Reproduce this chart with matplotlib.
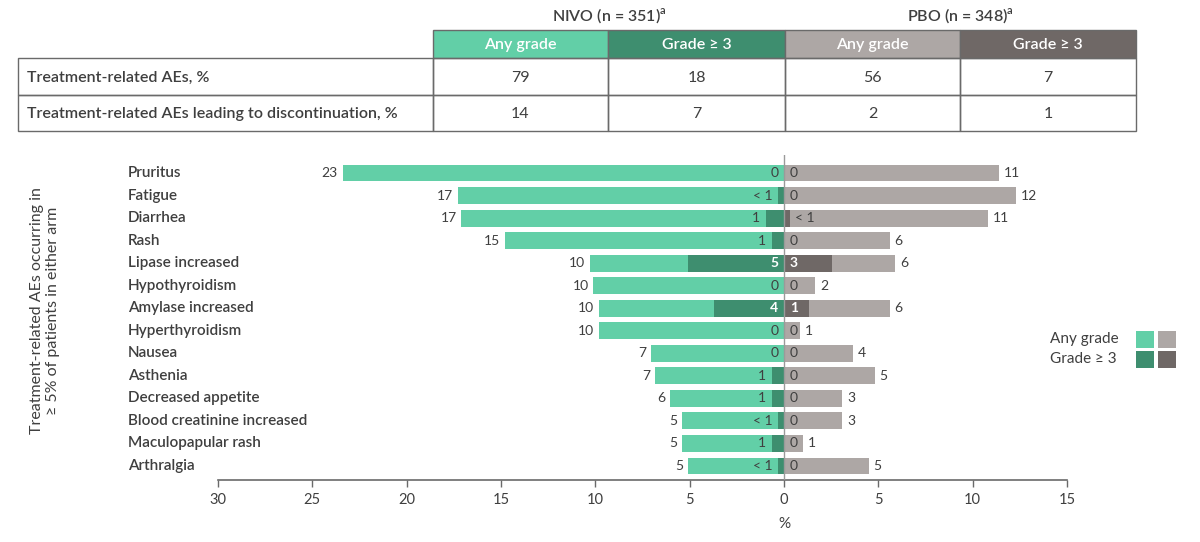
import matplotlib
matplotlib.use("Agg")
import matplotlib.pyplot as plt
from matplotlib.patches import Rectangle
from matplotlib.transforms import blended_transform_factory

plt.rcParams['font.family'] = ['Lato', 'DejaVu Sans']

# ---------------- data ----------------
categories = ["Pruritus", "Fatigue", "Diarrhea", "Rash", "Lipase increased",
              "Hypothyroidism", "Amylase increased", "Hyperthyroidism", "Nausea",
              "Asthenia", "Decreased appetite", "Blood creatinine increased",
              "Maculopapular rash", "Arthralgia"]
nivo_any = [23.4, 17.3, 17.1, 14.8, 10.3, 10.1, 9.8, 9.8, 7.05, 6.85, 6.05, 5.4, 5.4, 5.1]
nivo_g3 = [0, 0.3, 0.95, 0.65, 5.1, 0, 3.7, 0, 0, 0.65, 0.65, 0.3, 0.65, 0.3]
pbo_any = [11.4, 12.3, 10.8, 5.6, 5.9, 1.65, 5.6, 0.85, 3.65, 4.8, 3.1, 3.1, 1.0, 4.5]
pbo_g3 = [0, 0, 0.3, 0, 2.55, 0, 1.3, 0, 0, 0, 0, 0, 0, 0]

nivo_any_lbl = ["23", "17", "17", "15", "10", "10", "10", "10", "7", "7", "6", "5", "5", "5"]
nivo_g3_lbl = ["0", "< 1", "1", "1", "5", "0", "4", "0", "0", "1", "1", "< 1", "1", "< 1"]
pbo_any_lbl = ["11", "12", "11", "6", "6", "2", "6", "1", "4", "5", "3", "3", "1", "5"]
pbo_g3_lbl = ["0", "0", "< 1", "0", "3", "0", "1", "0", "0", "0", "0", "0", "0", "0"]

table_rows = ["Treatment-related AEs, %", "Treatment-related AEs leading to discontinuation, %"]
table_headers = ["Any grade", "Grade \u2265 3", "Any grade", "Grade \u2265 3"]
table_values = [["79", "18", "56", "7"], ["14", "7", "2", "1"]]
group_titles = ["NIVO (n = 351)$^{\\mathregular{a}}$", "PBO (n = 348)$^{\\mathregular{a}}$"]

xticks = [-30, -25, -20, -15, -10, -5, 0, 5, 10, 15]

# ---------------- style ----------------
C_NA = "#62CFA7"
C_NG = "#3E8E6F"
C_PA = "#ADA7A5"
C_PG = "#6F6866"
TXT = "#3F3F3F"
EDGE = "#6A6A6A"

W, H = 1200, 542
fig = plt.figure(figsize=(W / 100, H / 100), dpi=100, facecolor="white")

# ---------------- table (pixel-coordinate overlay) ----------------
tax = fig.add_axes([0, 0, 1, 1], zorder=0)
tax.set_xlim(0, W)
tax.set_ylim(H, 0)
tax.axis("off")

col_x = [18, 433, 608, 785, 960, 1136]
row_y = [30, 58, 95, 131]
head_colors = [C_NA, C_NG, C_PA, C_PG]

for j in range(4):
    x0, x1 = col_x[j + 1], col_x[j + 2]
    tax.add_patch(Rectangle((x0, row_y[0]), x1 - x0, row_y[1] - row_y[0],
                            facecolor=head_colors[j], edgecolor=EDGE, lw=1.0))
    tax.text((x0 + x1) / 2, (row_y[0] + row_y[1]) / 2 + 1, table_headers[j],
             ha="center", va="center", color="white", fontsize=11.5, fontweight="semibold")
for i in range(2):
    y0, y1 = row_y[i + 1], row_y[i + 2]
    for j in range(5):
        x0, x1 = col_x[j], col_x[j + 1]
        tax.add_patch(Rectangle((x0, y0), x1 - x0, y1 - y0, facecolor="none",
                                edgecolor=EDGE, lw=1.0))
    tax.text(col_x[0] + 9, (y0 + y1) / 2 + 1, table_rows[i], ha="left", va="center",
             color=TXT, fontsize=11.5, fontweight="semibold")
    for j in range(4):
        tax.text((col_x[j + 1] + col_x[j + 2]) / 2, (y0 + y1) / 2 + 1, table_values[i][j],
                 ha="center", va="center", color=TXT, fontsize=11.5)
for g in range(2):
    cx = (col_x[1 + 2 * g] + col_x[3 + 2 * g]) / 2
    tax.text(cx, 16, group_titles[g], ha="center", va="center", color=TXT,
             fontsize=11.5, fontweight="semibold")

# legend
tax.text(1050, 339, "Any grade", ha="left", va="center", color=TXT, fontsize=11)
tax.text(1050, 359, "Grade \u2265 3", ha="left", va="center", color=TXT, fontsize=11)
for (cx, cy, c) in [(1136, 331, C_NA), (1158, 331, C_PA), (1136, 351, C_NG), (1158, 351, C_PG)]:
    tax.add_patch(Rectangle((cx, cy), 18, 17, facecolor=c, edgecolor="none"))

# y-axis title
tax.text(45, 311, "Treatment-related AEs occurring in\n\u2265 5% of patients in either arm",
         ha="center", va="center", rotation=90, color=TXT, fontsize=11.5, linespacing=1.2)

# ---------------- bar chart ----------------
ax = fig.add_axes([218 / W, 1 - 480 / H, (1067 - 218) / W, (480 - 155) / H], zorder=1)
ax.patch.set_alpha(0)
n = len(categories)
ypos = list(range(n))
bh = 0.75

ax.barh(ypos, [-v for v in nivo_any], height=bh, color=C_NA, zorder=2)
ax.barh(ypos, [-v for v in nivo_g3], height=bh, color=C_NG, zorder=3)
ax.barh(ypos, pbo_any, height=bh, color=C_PA, zorder=2)
ax.barh(ypos, pbo_g3, height=bh, color=C_PG, zorder=3)
ax.axvline(0, color="#9A9A9A", lw=1.0, zorder=4)

fs = 10
for i in range(n):
    ax.text(-nivo_any[i] - 0.25, i, nivo_any_lbl[i], ha="right", va="center",
            fontsize=fs, color=TXT)
    ax.text(pbo_any[i] + 0.25, i, pbo_any_lbl[i], ha="left", va="center",
            fontsize=fs, color=TXT)
    g = nivo_g3[i]
    if g >= 1.2:
        ax.text(-0.3, i, nivo_g3_lbl[i], ha="right", va="center", fontsize=fs,
                color="white", fontweight="bold", zorder=5)
    else:
        ax.text(-g - 0.3, i, nivo_g3_lbl[i], ha="right", va="center", fontsize=fs,
                color=TXT, zorder=5)
    g = pbo_g3[i]
    if g >= 1.2:
        ax.text(0.3, i, pbo_g3_lbl[i], ha="left", va="center", fontsize=fs,
                color="white", fontweight="bold", zorder=5)
    else:
        ax.text(g + 0.3, i, pbo_g3_lbl[i], ha="left", va="center", fontsize=fs,
                color=TXT, zorder=5)

ax.set_xlim(-30, 15)
ax.set_ylim(n - 1 + 0.62, -0.8)
ax.set_yticks([])
ax.set_xticks(xticks)
ax.set_xticklabels([str(abs(t)) for t in xticks], fontsize=10.5, color=TXT)
ax.tick_params(axis="x", length=5, width=1, color=EDGE, pad=4)
for s in ["top", "right", "left"]:
    ax.spines[s].set_visible(False)
ax.spines["bottom"].set_color(EDGE)
ax.spines["bottom"].set_linewidth(1.2)
ax.set_xlabel("%", fontsize=11, color=TXT)
ax.xaxis.set_label_coords(30 / 45, -37 / 325)

trans = blended_transform_factory(fig.transFigure, ax.transData)
for i, c in enumerate(categories):
    ax.text(128 / W, i, c, transform=trans, ha="left", va="center", fontsize=11,
            color=TXT, fontweight="semibold", clip_on=False)

fig.savefig("out.png", dpi=100, facecolor="white")
